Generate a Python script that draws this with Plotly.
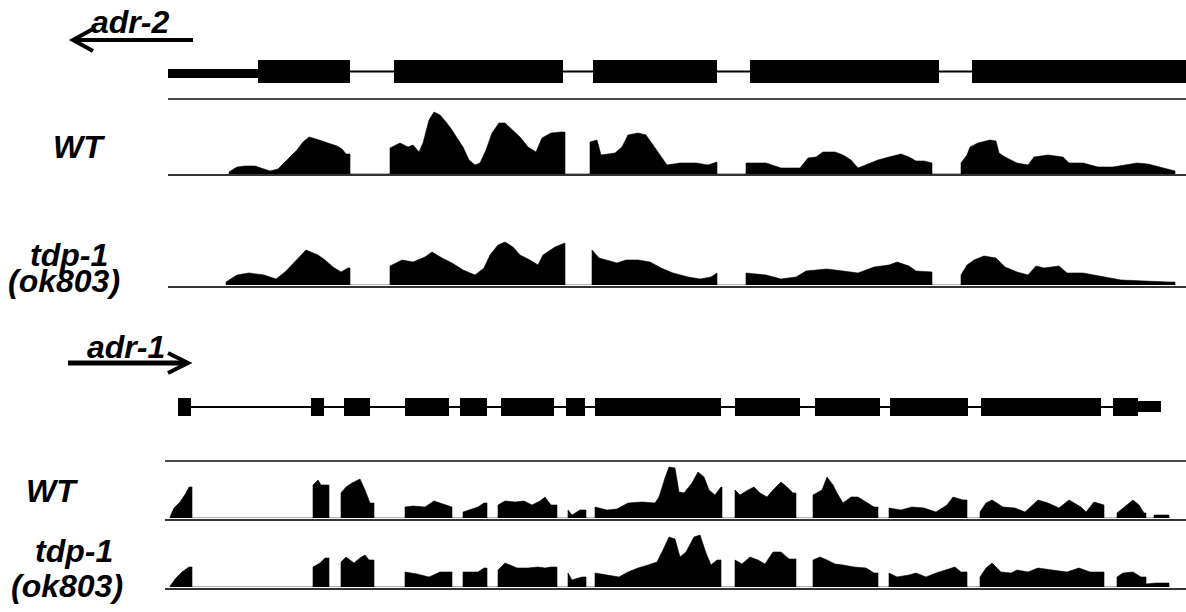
import plotly.graph_objects as go

W, H = 1186, 612

# ---------------- gene models (locus coordinates) ----------------
adr2_utr = [(168, 259)]
adr2_exons = [(258, 350), (394, 563), (593, 717), (750, 939), (972, 1186)]

adr1_exons = [(178, 191), (311, 324), (344, 370), (405, 449), (460, 487), (501, 554),
              (566, 585), (595, 721), (735, 800), (815, 880), (890, 968), (981, 1101),
              (1113, 1138)]
adr1_utr = [(1138, 1161)]

# ---------------- coverage profiles: segments of (position, depth) ----------------
adr2_wt = [
    [(229, 2), (237, 7), (245, 8), (255, 8), (262, 6), (270, 3), (278, 5), (283, 10), (290, 17),
     (297, 24), (303, 32), (309, 37), (316, 35), (322, 33), (330, 30), (337, 28), (342, 25),
     (346, 20), (350, 20)],
    [(390, 26), (400, 31), (405, 29), (408, 27), (413, 29), (419, 22), (423, 31), (429, 54),
     (434, 62), (440, 59), (446, 52), (452, 44), (457, 36), (463, 27), (469, 14), (475, 9),
     (480, 11), (486, 24), (492, 41), (499, 51), (505, 51), (513, 44), (520, 37), (528, 27),
     (536, 22), (542, 36), (551, 41), (561, 42), (565, 42)],
    [(590, 32), (597, 34), (601, 19), (615, 21), (622, 27), (628, 39), (638, 41), (646, 39),
     (653, 29), (661, 17), (667, 9), (680, 11), (696, 11), (708, 9), (717, 12)],
    [(746, 11), (766, 11), (781, 6), (800, 6), (808, 16), (816, 17), (823, 22), (835, 22),
     (843, 19), (851, 14), (858, 6), (866, 9), (878, 14), (889, 17), (901, 20), (909, 17),
     (916, 13), (924, 13), (932, 11)],
    [(961, 11), (967, 19), (970, 27), (978, 31), (990, 34), (996, 33), (999, 21), (1005, 17),
     (1017, 11), (1028, 9), (1034, 17), (1048, 19), (1063, 17), (1069, 11), (1083, 11),
     (1098, 7), (1113, 7), (1125, 9), (1137, 11), (1148, 10), (1160, 7), (1173, 3), (1175, 3)],
]

adr2_tdp = [
    [(226, 3), (237, 10), (249, 12), (264, 10), (276, 6), (285, 13), (295, 23), (306, 35),
     (318, 30), (325, 25), (333, 18), (341, 13), (348, 17), (350, 17)],
    [(390, 19), (402, 25), (413, 23), (425, 28), (432, 33), (442, 27), (452, 22), (463, 15),
     (475, 10), (484, 17), (490, 30), (498, 40), (505, 43), (513, 38), (520, 30), (530, 25),
     (538, 20), (543, 30), (555, 38), (565, 42)],
    [(592, 35), (599, 27), (617, 22), (626, 25), (638, 25), (650, 23), (661, 17), (673, 12),
     (688, 8), (700, 6), (711, 8), (717, 12)],
    [(746, 12), (766, 10), (781, 6), (796, 8), (806, 14), (827, 16), (843, 14), (858, 12),
     (874, 18), (889, 20), (897, 23), (909, 19), (916, 14), (930, 13), (932, 13)],
    [(961, 10), (967, 20), (974, 25), (984, 29), (996, 27), (1005, 18), (1017, 13), (1028, 10),
     (1036, 19), (1044, 17), (1059, 19), (1067, 12), (1083, 12), (1098, 9), (1110, 7),
     (1121, 5), (1168, 3), (1175, 3)],
]

adr1_wt = [
    [(170, 1), (174, 10), (180, 16), (186, 25), (189, 31), (192, 31)],
    [(313, 33), (318, 38), (321, 33), (325, 33), (329, 33)],
    [(341, 25), (346, 31), (352, 35), (360, 39), (365, 28), (370, 15), (374, 15)],
    [(405, 11), (413, 12), (425, 11), (434, 17), (440, 15), (452, 11)],
    [(463, 6), (471, 9), (478, 11), (484, 15), (487, 15)],
    [(498, 13), (505, 17), (515, 16), (524, 17), (532, 13), (540, 17), (545, 21), (551, 13),
     (557, 13)],
    [(568, 8), (572, 3), (580, 8), (586, 8)],
    [(595, 11), (607, 8), (617, 9), (628, 15), (642, 16), (655, 15), (659, 21), (665, 40),
     (669, 51), (675, 50), (679, 26), (684, 25), (692, 35), (698, 46), (704, 41), (709, 28),
     (715, 23), (721, 31), (722, 31)],
    [(735, 28), (740, 23), (748, 28), (754, 31), (760, 25), (767, 21), (773, 28), (781, 36),
     (787, 31), (793, 25), (796, 25)],
    [(813, 23), (822, 28), (827, 41), (833, 33), (837, 25), (843, 15), (851, 21), (858, 21),
     (866, 16), (874, 11), (878, 11)],
    [(889, 10), (901, 8), (912, 11), (924, 10), (936, 6), (947, 13), (953, 21), (963, 18),
     (967, 18)],
    [(980, 6), (986, 15), (992, 18), (1003, 11), (1015, 10), (1025, 6), (1038, 18), (1048, 15),
     (1059, 10), (1069, 18), (1081, 11), (1086, 6), (1094, 16), (1104, 13)],
    [(1117, 5), (1123, 10), (1133, 18), (1139, 13), (1144, 5), (1146, 5)],
    [(1154, 3), (1169, 3)],
]

adr1_tdp = [
    [(170, 1), (176, 9), (182, 15), (189, 20), (192, 20)],
    [(313, 20), (320, 24), (325, 29), (329, 29)],
    [(341, 25), (346, 30), (354, 24), (360, 29), (365, 32), (369, 27), (374, 27)],
    [(405, 15), (417, 13), (429, 10), (440, 15), (452, 15)],
    [(463, 15), (478, 15), (484, 19), (487, 19)],
    [(498, 17), (505, 24), (517, 19), (528, 19), (538, 20), (545, 19), (551, 20), (557, 20)],
    [(568, 14), (572, 7), (582, 10), (586, 10)],
    [(595, 14), (607, 12), (619, 10), (628, 15), (638, 19), (648, 22), (657, 25), (663, 37),
     (669, 50), (675, 48), (680, 30), (686, 35), (694, 50), (700, 52), (706, 34), (711, 22),
     (717, 27), (721, 27)],
    [(735, 27), (742, 23), (750, 30), (758, 27), (765, 23), (773, 35), (781, 35), (789, 28),
     (796, 28)],
    [(813, 27), (820, 30), (827, 27), (835, 23), (843, 22), (854, 20), (866, 19), (874, 14),
     (878, 14)],
    [(889, 14), (897, 10), (909, 12), (916, 14), (926, 10), (936, 14), (945, 17), (955, 20),
     (961, 15), (967, 15)],
    [(980, 10), (986, 19), (992, 24), (1001, 15), (1011, 14), (1017, 17), (1028, 15),
     (1038, 19), (1052, 17), (1067, 15), (1079, 19), (1090, 15), (1104, 15)],
    [(1117, 10), (1123, 14), (1133, 15), (1141, 10), (1146, 10)],
    [(1146, 3), (1156, 4), (1169, 4)],
]

# ---------------- layout of the tracks (pixel rows) ----------------
# (coverage segments, yaxis id, bottom px, height px, baseline px, line x start)
tracks = [
    (adr2_wt, "y2", 174, 70, 175, 168),
    (adr2_tdp, "y3", 285, 50, 287, 168),
    (adr1_wt, "y4", 518, 55, 520, 165),
    (adr1_tdp, "y5", 587, 60, 589, 165),
]

fig = go.Figure()
shapes = []

for segs, yid, bottom, height, base, x0 in tracks:
    xs, ys = [], []
    for seg in segs:
        xs.append(seg[0][0]); ys.append(0)
        for px, d in seg:
            xs.append(px); ys.append(d)
        xs.append(seg[-1][0]); ys.append(0)
    fig.add_trace(go.Scatter(x=xs, y=ys, mode="lines", yaxis=yid, fill="tozeroy",
                             fillcolor="black", line=dict(color="black", width=0.6),
                             hoverinfo="skip", showlegend=False))
    shapes.append(dict(type="line", xref="x", yref="y", x0=x0, x1=W, y0=base, y1=base,
                       line=dict(color="#333333", width=2), layer="above"))

# separators
shapes.append(dict(type="line", xref="x", yref="y", x0=168, x1=W, y0=99, y1=99,
                   line=dict(color="#4a4a4a", width=2)))
shapes.append(dict(type="line", xref="x", yref="y", x0=165, x1=W, y0=461, y1=461,
                   line=dict(color="#4a4a4a", width=2)))

# adr-2 gene model
shapes.append(dict(type="line", xref="x", yref="y", x0=adr2_exons[0][0], x1=adr2_exons[-1][1],
                   y0=71.5, y1=71.5, line=dict(color="black", width=2)))
for a, b in adr2_utr:
    shapes.append(dict(type="rect", xref="x", yref="y", x0=a, x1=b, y0=69, y1=78,
                       fillcolor="black", line=dict(width=0)))
for a, b in adr2_exons:
    shapes.append(dict(type="rect", xref="x", yref="y", x0=a, x1=b, y0=60, y1=83,
                       fillcolor="black", line=dict(width=0)))

# adr-1 gene model
shapes.append(dict(type="line", xref="x", yref="y", x0=adr1_exons[0][0], x1=adr1_exons[-1][1],
                   y0=407, y1=407, line=dict(color="black", width=2)))
for a, b in adr1_utr:
    shapes.append(dict(type="rect", xref="x", yref="y", x0=a, x1=b, y0=401, y1=412,
                       fillcolor="black", line=dict(width=0)))
for a, b in adr1_exons:
    shapes.append(dict(type="rect", xref="x", yref="y", x0=a, x1=b, y0=398, y1=416,
                       fillcolor="black", line=dict(width=0)))

# direction arrows
shapes.append(dict(type="line", xref="x", yref="y", x0=74, x1=193, y0=40, y1=40,
                   line=dict(color="black", width=4)))
shapes.append(dict(type="path", xref="x", yref="y", path="M 93,29 L 73,40 L 93,51",
                   line=dict(color="black", width=4)))
shapes.append(dict(type="line", xref="x", yref="y", x0=68, x1=187, y0=363, y1=363,
                   line=dict(color="black", width=5)))
shapes.append(dict(type="path", xref="x", yref="y", path="M 168,353 L 188,363 L 168,373",
                   line=dict(color="black", width=4)))

FONT = "Liberation Sans, Arial, sans-serif"
labels = [
    ("adr-2", 130, 22),
    ("WT", 79, 147),
    ("tdp-1", 69, 255),
    ("(ok803)", 64, 281),
    ("adr-1", 126, 347),
    ("WT", 52, 491),
    ("tdp-1", 74, 551),
    ("(ok803)", 67, 586),
]
annotations = [dict(text=f"<b><i>{t}</i></b>", x=x, y=y, xref="x", yref="y", showarrow=False,
                    xanchor="center", yanchor="middle",
                    font=dict(family=FONT, size=32, color="black"))
               for t, x, y in labels]

layout = dict(
    width=W, height=H, margin=dict(l=0, r=0, t=0, b=0, pad=0),
    paper_bgcolor="white", plot_bgcolor="white", showlegend=False,
    xaxis=dict(range=[0, W], visible=False, fixedrange=True),
    yaxis=dict(range=[H, 0], domain=[0, 1], visible=False, fixedrange=True),
    shapes=shapes, annotations=annotations,
)
for segs, yid, bottom, height, base, x0 in tracks:
    key = "yaxis" + yid[1:]
    layout[key] = dict(range=[0, height], domain=[(H - bottom) / H, (H - bottom + height) / H],
                       anchor="x", visible=False, fixedrange=True)

fig.update_layout(**layout)
fig.write_html("out.html", config={"displayModeBar": False},
               post_script="document.body.style.margin='0px';document.body.style.overflow='hidden';")
